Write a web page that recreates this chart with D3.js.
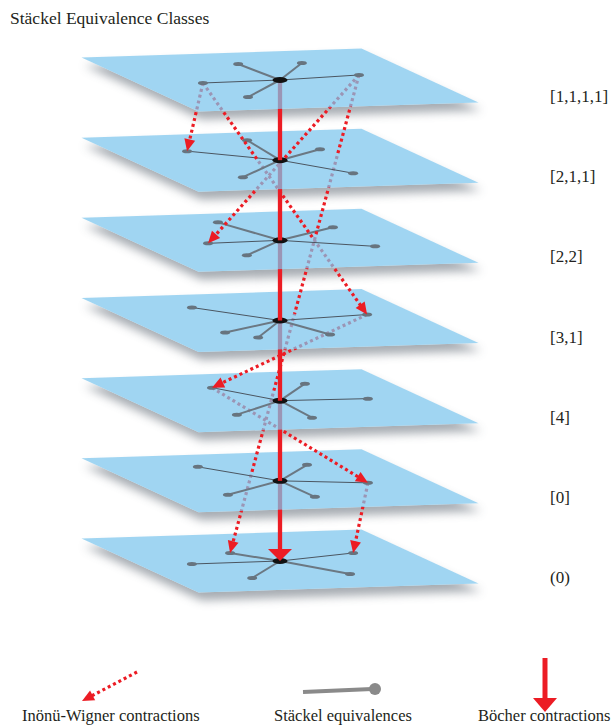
<!DOCTYPE html>
<html><head><meta charset="utf-8">
<script src="https://cdn.jsdelivr.net/npm/d3@7"></script>
<style>
body{margin:0;background:#fff}
svg{display:block}
text{font-family:"Liberation Serif","Times New Roman",serif;fill:#231f20}
</style>
</head><body>
<svg id="c" width="612" height="726"></svg>
<script>
// ---------- data ----------
const title = "Stäckel Equivalence Classes";
const levels = ["[1,1,1,1]","[2,1,1]","[2,2]","[3,1]","[4]","[0]","(0)"];
// leaves of each Stäckel star, in plane coordinates: [name, a, b, weight]
const star1 = [["left",-0.279,0.009,"thin"],["right",0.300,-0.043,"thin"],["UL",-0.024,-0.300,"thick"],["UR",0.196,-0.282,"thick"],["LL",-0.230,0.277,"thick"]];
const star2 = [["left",-0.245,-0.208,"thin"],["right",0.150,0.266,"thin"],["UL",0.035,-0.365,"thick"],["UR",0.213,-0.168,"thick"],["LL",-0.247,0.274,"thick"]];
const star3 = [["UL",-0.077,-0.346,"thick"],["left",-0.262,0.012,"thin"],["UR",0.271,-0.196,"thick"],["right",0.274,0.157,"thin"],["LL",-0.219,0.241,"thick"]];
const star4 = [["left",-0.200,-0.274,"thin"],["right",0.334,-0.055,"thin"],["LL",-0.270,0.177,"thick"],["lower",-0.196,0.282,"thick"],["LR",0.066,0.270,"thick"]];
const star5 = [["left",-0.133,-0.263,"thin"],["UR",0.206,-0.280,"thick"],["right",0.308,0.014,"thin"],["LL",-0.245,0.218,"thick"],["LR",-0.016,0.312,"thick"]];
const star6 = [["UL",-0.173,-0.288,"thin"],["UR",0.206,-0.262,"thick"],["right",0.279,0.084,"thin"],["LL",-0.275,0.213,"thick"],["LR",0.001,0.296,"thick"]];
const star7 = [["UL",-0.109,-0.166,"thick"],["left",-0.316,0.003,"thin"],["UR",0.302,-0.098,"thin"],["LL",-0.216,0.279,"thick"],["LR",0.140,0.264,"thick"]];
const stars = [star1,star2,star3,star4,star5,star6,star7];
// Inönü-Wigner contractions: [fromLevel, fromLeaf, toLevel, toLeaf]
const inonuWigner = [
  ["[1,1,1,1]","left","[2,1,1]","left"],
  ["[1,1,1,1]","left","[3,1]","right"],
  ["[1,1,1,1]","right","[2,2]","left"],
  ["[1,1,1,1]","right","(0)","UL"],
  ["[3,1]","right","[4]","left"],
  ["[4]","left","[0]","right"],
  ["[0]","right","(0)","UR"]
];
// Böcher contractions: [fromLevel, toLevel]
const bocher = [["[1,1,1,1]","(0)"]];
const legendLabels = ["Inönü-Wigner contractions","Stäckel equivalences","Böcher contractions"];

// ---------- layout ----------
const W = 612, H = 726;
const RED = "#ec1c24";
const yL = d3.scalePoint().domain(levels).range([80, 561]);
const cx = 280, U = [280,-9], V = [117,54];
function proj(level, a, b){ return [cx + a*U[0] + b*V[0], yL(level) + a*U[1] + b*V[1]]; }
const starMap = new Map(levels.map((l,i)=>[l, stars[i]]));
function leafPt(level, name){ const s = starMap.get(level).find(d=>d[0]===name); return proj(level, s[1], s[2]); }
const line = d3.line();

const svg = d3.select("#c");
const defs = svg.append("defs");
defs.append("filter").attr("id","blur").attr("x",-0.2).attr("y",-0.4).attr("width",1.4).attr("height",1.8)
  .append("feGaussianBlur").attr("stdDeviation",5);

const N = levels.length;
const gapLayers = [];
const root = svg.append("g");
const corners = [[-.5,-.5],[.5,-.5],[.5,.5],[-.5,.5]];

for (let k = N-1; k >= 0; k--) {
  const lev = levels[k];
  const poly = corners.map(([a,b]) => proj(lev,a,b));
  const d = line(poly) + "Z";
  const mask = defs.append("mask").attr("id","m"+k).attr("maskUnits","userSpaceOnUse")
    .attr("x",0).attr("y",0).attr("width",W).attr("height",H);
  mask.append("rect").attr("width",W).attr("height",H).attr("fill","#fff");
  mask.append("path").attr("d",d).attr("fill","#000");
  root.append("g").attr("mask","url(#m"+k+")")
    .append("path").attr("d",d).attr("transform","translate(3,8)")
    .attr("fill","#4f5a66").attr("opacity",0.5).attr("filter","url(#blur)");
  if (k < N-1) gapLayers[k] = root.append("g");
  root.append("path").attr("d",d).attr("fill","rgb(123,197,237)").attr("fill-opacity",0.72);
  const sg = root.append("g");
  const c = proj(lev,0,0);
  stars[k].forEach(s => {
    const p = proj(lev, s[1], s[2]);
    sg.append("line").attr("x1",c[0]).attr("y1",c[1]).attr("x2",p[0]).attr("y2",p[1])
      .attr("stroke", s[3]==="thin" ? "#4b5661" : "#6b7883")
      .attr("stroke-width", s[3]==="thin" ? 1.0 : 2.0);
  });
  stars[k].forEach(s => {
    const p = proj(lev, s[1], s[2]);
    sg.append("ellipse").attr("cx",p[0]).attr("cy",p[1]).attr("rx",5).attr("ry",2).attr("fill","#67747f");
  });
  sg.append("ellipse").attr("cx",c[0]).attr("cy",c[1]).attr("rx",7.5).attr("ry",3).attr("fill","#111");
}

function arrowHead(g, E, ux, uy, len, wid){
  const B = [E[0]-ux*len, E[1]-uy*len];
  g.append("path").attr("d", line([E,[B[0]-uy*wid/2, B[1]+ux*wid/2],[B[0]+uy*wid/2, B[1]-ux*wid/2]])+"Z").attr("fill",RED);
}

function drawSplit(i, j, S, E, o){
  const dx = E[0]-S[0], dy = E[1]-S[1], len = Math.hypot(dx,dy), ux = dx/len, uy = dy/len;
  const total = len - o.head*0.85;
  for (let m = i; m < j; m++) {
    const t0 = (m-i)/(j-i), t1 = (m+1-i)/(j-i);
    const s0 = len*t0; let s1 = len*t1;
    if (m === j-1) s1 = total;
    if (s1 <= s0) continue;
    const p0 = [S[0]+ux*s0, S[1]+uy*s0], p1 = [S[0]+ux*s1, S[1]+uy*s1];
    const path = gapLayers[m].append("path").attr("d", line([p0,p1]))
      .attr("stroke",RED).attr("stroke-width",o.width).attr("fill","none");
    if (o.dash) path.attr("stroke-dasharray",o.dash).attr("stroke-dashoffset",s0);
  }
  arrowHead(gapLayers[j-1], E, ux, uy, o.head, o.headW);
}

inonuWigner.forEach(([fl,fn,tl,tn]) => {
  drawSplit(levels.indexOf(fl), levels.indexOf(tl), leafPt(fl,fn), leafPt(tl,tn),
    {width:3.2, dash:"3 3", head:12, headW:11});
});
bocher.forEach(([fl,tl]) => {
  drawSplit(levels.indexOf(fl), levels.indexOf(tl), proj(fl,0,0), proj(tl,0,0),
    {width:4.3, dash:null, head:12, headW:24});
});

// labels
svg.append("g").selectAll("text").data(levels).join("text")
  .attr("x",550).attr("y",d=>yL(d)+22).attr("font-size",17).text(d=>d);
svg.append("text").attr("x",10).attr("y",24).attr("font-size",17.5).text(title);

// legend
const lg = svg.append("g");
{
  const S = [137,672], E = [82,701];
  const dx=E[0]-S[0], dy=E[1]-S[1], len=Math.hypot(dx,dy), ux=dx/len, uy=dy/len;
  const e2 = [E[0]-ux*10, E[1]-uy*10];
  lg.append("path").attr("d",line([S,e2])).attr("stroke",RED).attr("stroke-width",3.2).attr("stroke-dasharray","3 3").attr("fill","none");
  arrowHead(lg, E, ux, uy, 12, 11);
}
lg.append("line").attr("x1",303).attr("y1",692).attr("x2",372).attr("y2",689).attr("stroke","#8a8a8a").attr("stroke-width",4);
lg.append("circle").attr("cx",375).attr("cy",689).attr("r",6).attr("fill","#8a8a8a");
lg.append("line").attr("x1",545).attr("y1",658).attr("x2",545).attr("y2",702).attr("stroke",RED).attr("stroke-width",5);
arrowHead(lg, [545,712], 0, 1, 14, 24);
const legX = [22, 274, 478];
lg.selectAll("text").data(legendLabels).join("text")
  .attr("x",(d,i)=>legX[i]).attr("y",721).attr("font-size",16.5).text(d=>d);
</script>
</body></html>
